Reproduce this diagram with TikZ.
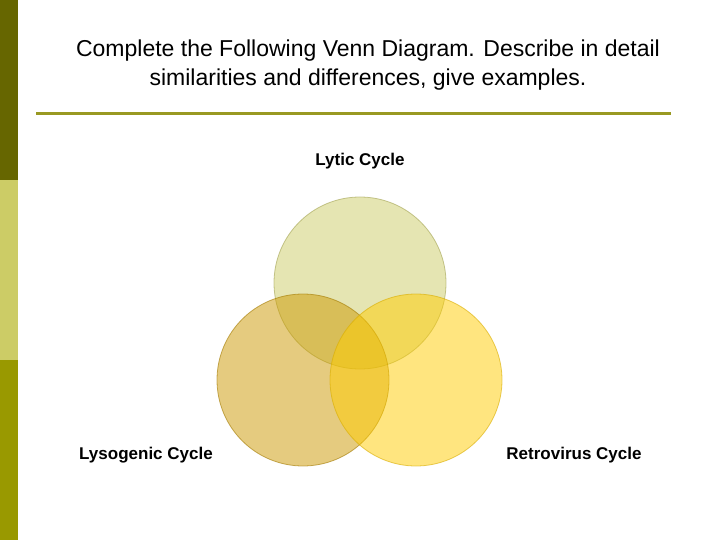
\documentclass[tikz,border=0pt]{standalone}
\usepackage{fontspec}
\setmainfont{Liberation Sans}
\definecolor{barA}{HTML}{666600}
\definecolor{barB}{HTML}{CCCC66}
\definecolor{barC}{HTML}{999900}
\definecolor{rulec}{HTML}{999922}
\definecolor{cTop}{HTML}{CCCC66}
\definecolor{cLeft}{HTML}{CC9900}
\definecolor{cRight}{HTML}{FFCC00}
\tikzset{
  venn/.style={fill opacity=0.5, draw opacity=0.6, line width=0.8pt},
  lbl/.style={font=\fontsize{17}{20}\selectfont\bfseries, inner sep=0pt},
}
\begin{document}
\begin{tikzpicture}[x=1pt,y=-1pt]
\useasboundingbox (0,0) rectangle (720,540);
\fill[white] (0,0) rectangle (720,540);
\fill[barA] (0,0) rectangle (18,180);
\fill[barB] (0,180) rectangle (18,360);
\fill[barC] (0,360) rectangle (18,540);
\node[font=\fontsize{23}{29}\selectfont, align=center, inner sep=0pt] (title) at (368,65)
  {Complete the Following Venn Diagram. Describe in detail\\similarities and differences, give examples.};
\draw[rulec, line width=3pt] (36,114) -- (671,114);
\draw[venn, fill=cTop, draw=cTop!80!black] (360,283) circle (86);
\draw[venn, fill=cLeft, draw=cLeft!80!black] (303,380) circle (86);
\draw[venn, fill=cRight, draw=cRight!85!black] (416,380) circle (86);
\node[lbl] (lytic) at (360,161) {Lytic Cycle};
\node[lbl] (lyso) at (146,455) {Lysogenic Cycle};
\node[lbl] (retro) at (574,455) {Retrovirus Cycle};
\end{tikzpicture}
\end{document}
